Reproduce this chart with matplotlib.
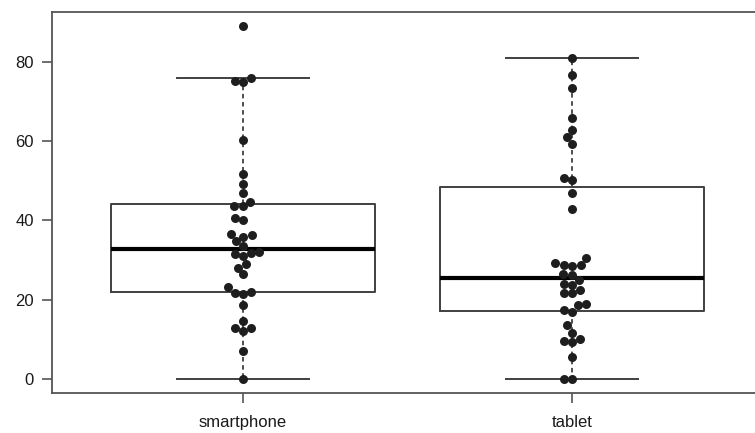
import numpy as np
import matplotlib.pyplot as plt

# values
groups = ["smartphone", "tablet"]
smartphone = [89.1, 75.9, 75.0, 75.3, 60.4, 51.6, 49.1, 46.8, 44.6, 43.6, 43.6,
              40.1, 40.6, 36.2, 35.9, 36.5, 34.8, 33.5, 32.0, 31.4, 31.0, 31.9,
              28.9, 28.1, 26.4, 23.1, 21.4, 21.8, 22.0, 18.7, 14.7, 12.8, 12.2,
              12.8, 7.1, 0.0]
tablet = [80.9, 76.7, 73.4, 65.8, 62.9, 61.1, 59.4, 50.7, 50.1, 46.8, 42.9,
          30.5, 29.3, 28.8, 28.6, 28.8, 26.5, 26.1, 25.0, 23.8, 24.0, 22.5,
          21.6, 21.8, 19.0, 18.6, 17.0, 17.5, 13.5, 11.7, 10.1, 9.3, 9.5, 5.4,
          0.0, 0.0]
yticks = [0, 20, 40, 60, 80]


def fivenum(v):
    # Tukey hinges, like R's boxplot
    v = np.sort(np.asarray(v, float))
    n = len(v)
    n4 = np.floor((n + 3) / 2) / 2
    idx = np.array([1, n4, (n + 1) / 2, n + 1 - n4, n]) - 1
    return 0.5 * (v[np.floor(idx).astype(int)] + v[np.ceil(idx).astype(int)])


def box_stats(v, label):
    lo, q1, med, q3, hi = fivenum(v)
    iqr = q3 - q1
    v = np.asarray(v)
    whislo = v[v >= q1 - 1.5 * iqr].min()
    whishi = v[v <= q3 + 1.5 * iqr].max()
    return dict(med=med, q1=q1, q3=q3, whislo=whislo, whishi=whishi, label=label)


def swarm(ypx, d):
    # place each point as near the centre as it can go without overlapping
    order = np.argsort(ypx)
    xs = np.zeros(len(ypx))
    placed = []
    for i in order:
        cands = [0.0]
        for j in placed:
            dy = ypx[i] - ypx[j]
            if abs(dy) < d:
                dx = np.sqrt(d * d - dy * dy)
                cands += [xs[j] - dx, xs[j] + dx]
        cands.sort(key=lambda c: (abs(c), c))
        for c in cands:
            ok = all((c - xs[j]) ** 2 + (ypx[i] - ypx[j]) ** 2 >= d * d - 1e-6
                     for j in placed)
            if ok:
                xs[i] = c
                break
        placed.append(i)
    return xs


fig = plt.figure(figsize=(7.55, 4.33), dpi=100)
ax = fig.add_axes([52 / 755, 40 / 433, 711 / 755, 381 / 433])
ax.set_xlim(0.42, 2.58)
ax.set_ylim(-3.56, 92.6)

edge = "#404040"
stats = [box_stats(smartphone, groups[0]), box_stats(tablet, groups[1])]
ax.bxp(stats, positions=[1, 2], widths=0.8, capwidths=0.4, showfliers=False,
       patch_artist=False,
       boxprops=dict(color=edge, linewidth=1.4),
       whiskerprops=dict(color=edge, linewidth=1.3, linestyle=(0, (2.5, 2))),
       capprops=dict(color=edge, linewidth=1.4),
       medianprops=dict(color="black", linewidth=3))

# pixels per data unit, to build the swarm
p0 = ax.transData.transform((0, 0))
p1 = ax.transData.transform((1, 1))
sx, sy = p1 - p0
diam = 8.5
for pos, vals in zip([1, 2], [smartphone, tablet]):
    vals = np.asarray(vals)
    off = swarm(vals * sy, diam)
    ax.scatter(pos + off / sx, vals, s=42, color="#1e1e1e", zorder=5,
               linewidths=0)

ax.set_xticks([1, 2])
ax.set_xticklabels(groups)
ax.set_yticks(yticks)
for sp in ["left", "bottom", "top"]:
    ax.spines[sp].set_color("#555555")
    ax.spines[sp].set_linewidth(1.3)
ax.spines["right"].set_visible(False)
ax.tick_params(axis="both", colors="#555555", length=7, width=1.2,
               labelcolor="#1a1a1a", labelsize=12)
ax.tick_params(axis="y", pad=6)
ax.tick_params(axis="x", pad=9)
for lab in ax.get_xticklabels() + ax.get_yticklabels():
    lab.set_family("Liberation Sans")

fig.savefig("out.png", dpi=100)
